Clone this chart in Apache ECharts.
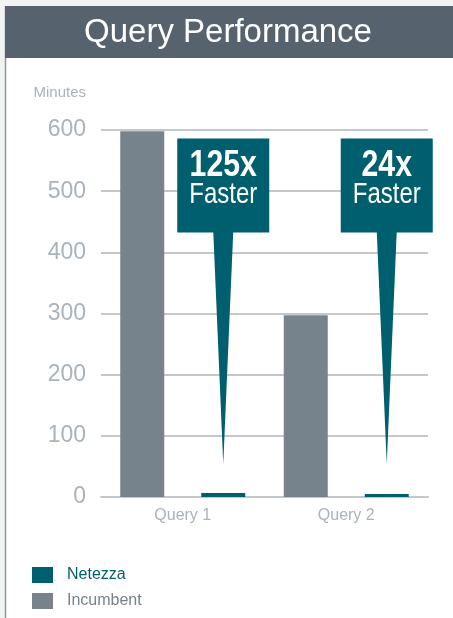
<!DOCTYPE html>
<html>
<head>
<meta charset="utf-8">
<script src="https://cdn.jsdelivr.net/npm/echarts@6/dist/echarts.min.js"></script>
<style>
  html, body { margin: 0; padding: 0; background: #ffffff; }
  #container { width: 453px; height: 618px; }
</style>
</head>
<body>
<div id="container"></div>
<script type="text/javascript">
// chart data
var categories = ['Query 1', 'Query 2'];
var incumbent = [598, 297];
var netezza = [6.5, 4.8];
var speedups = ['125x', '24x'];

var sans = '"Liberation Sans", "Helvetica", Arial, sans-serif';
var grey = '#a9b3bb';
var teal = '#005f6f';
var slate = '#76838d';

var barWidth = 44;
var barGap = 37;

var mychart = echarts.init(document.getElementById('container'));

var option = {
    animation: false,
    backgroundColor: '#ffffff',
    grid: { left: 101, right: 25, top: 130, bottom: 121 },
    legend: {
        orient: 'vertical',
        left: 32,
        top: 567,
        padding: 0,
        itemWidth: 21,
        itemHeight: 16,
        itemGap: 10,
        icon: 'rect',
        data: [
            { name: 'Netezza', textStyle: { color: teal } },
            { name: 'Incumbent', textStyle: { color: slate } }
        ],
        textStyle: { fontFamily: sans, fontSize: 16, padding: [0, 0, 0, 9] }
    },
    xAxis: {
        type: 'category',
        data: categories,
        axisTick: { show: false },
        axisLine: { lineStyle: { color: '#c3c8cd', width: 2 } },
        axisLabel: { color: grey, fontFamily: sans, fontSize: 16, margin: 11 }
    },
    yAxis: {
        type: 'value',
        min: 0,
        max: 600,
        interval: 100,
        name: 'Minutes',
        nameLocation: 'end',
        nameGap: 30,
        nameTextStyle: { color: grey, fontFamily: sans, fontSize: 15, align: 'right', padding: [0, 15, 0, 0] },
        axisLine: { show: false },
        axisTick: { show: false },
        axisLabel: { color: grey, fontFamily: sans, fontSize: 23, margin: 15 },
        splitLine: { lineStyle: { color: '#c3c8cd', width: 2 } }
    },
    series: [
        {
            name: 'Incumbent',
            type: 'bar',
            data: incumbent,
            barWidth: barWidth,
            barGap: (barGap / barWidth * 100) + '%',
            itemStyle: { color: slate }
        },
        {
            name: 'Netezza',
            type: 'bar',
            data: netezza,
            barWidth: barWidth,
            itemStyle: { color: teal }
        }
    ]
};

mychart.setOption(option);

// frame, banner and callouts
function buildGraphics() {
    var g = [
        { type: 'rect', shape: { x: 0, y: 0, width: 453, height: 6 }, style: { fill: '#f2f4f3' }, z: 20 },
        { type: 'rect', shape: { x: 0, y: 0, width: 5, height: 618 }, style: { fill: '#f2f4f3' }, z: 20 },
        { type: 'line', shape: { x1: 5.5, y1: 6, x2: 5.5, y2: 618 }, style: { stroke: '#8f989f', lineWidth: 1.5 }, z: 20 },
        { type: 'rect', shape: { x: 5, y: 6, width: 448, height: 52 }, style: { fill: '#56636f' }, z: 20 },
        { type: 'text', x: 228, y: 33, z: 21,
          style: { text: 'Query Performance', fill: '#ffffff', fontSize: 33, fontFamily: sans,
                   align: 'center', verticalAlign: 'middle' } }
    ];
    var off = (barWidth + barGap) / 2;
    for (var i = 0; i < speedups.length; i++) {
        var top = mychart.convertToPixel({ gridIndex: 0 }, [categories[i], 586]);
        var tip = mychart.convertToPixel({ gridIndex: 0 }, [categories[i], 54]);
        var cx = top[0] + off;
        var ty = top[1];
        g.push({ type: 'rect', z: 10, shape: { x: cx - 46, y: ty, width: 92, height: 94 }, style: { fill: teal } });
        g.push({ type: 'polygon', z: 10, shape: { points: [[cx - 10, ty + 93], [cx + 10, ty + 93], [cx, tip[1]]] }, style: { fill: teal } });
        g.push({ type: 'text', z: 11, x: cx, y: ty + 28, scaleX: 0.84,
                 style: { text: speedups[i], fill: '#ffffff', fontSize: 36, fontWeight: 'bold', fontFamily: sans,
                          align: 'center', verticalAlign: 'middle' } });
        g.push({ type: 'text', z: 11, x: cx, y: ty + 56, scaleX: 0.8,
                 style: { text: 'Faster', fill: '#ffffff', fontSize: 30, fontFamily: sans,
                          align: 'center', verticalAlign: 'middle' } });
    }
    return g;
}

mychart.setOption({ graphic: buildGraphics() });
</script>
</body>
</html>
